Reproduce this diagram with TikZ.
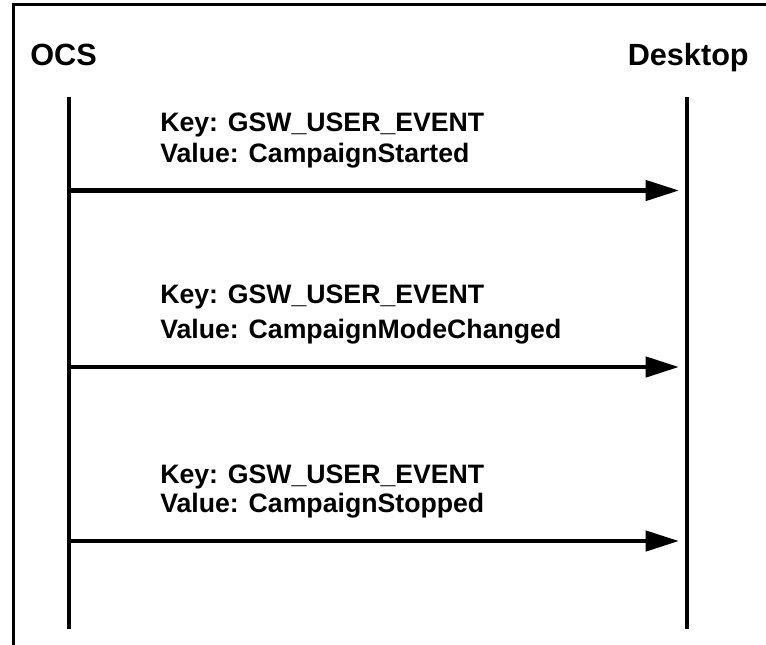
\documentclass[tikz,border=0pt]{standalone}
\usepackage{fontspec}
\setmainfont{Liberation Sans}
\usepackage{tikz}
\usetikzlibrary{arrows.meta}

\begin{document}
\begin{tikzpicture}[x=0.75pt, y=-0.75pt,
	actor/.style = {inner sep=0pt, font=\fontsize{23}{27}\selectfont\bfseries},
	msg/.style = {inner sep=0pt, anchor=base west, font=\fontsize{20}{24}\selectfont\bfseries},
	life/.style = {line width=3pt},
	call/.style = {line width=3.3pt, -{Triangle[length=25pt, width=15pt]}, shorten >=6pt}]
	\useasboundingbox (0,0) rectangle (766,644);
	\clip (0,0) rectangle (766,644);
	\draw[line width=1.8pt] (13.5,4.5) rectangle (800,700);
	\node[actor, anchor=base west] (ocs) at (30,65) {OCS};
	\node[actor, anchor=base east] (desk) at (749,65) {Desktop};
	\coordinate (ocstop) at (68.5,97);
	\coordinate (ocsbot) at (68.5,629);
	\coordinate (desktop) at (687,97);
	\coordinate (deskbot) at (687,629);
	\draw[life] (ocstop) -- (ocsbot);
	\draw[life] (desktop) -- (deskbot);
	% first message
	\node[msg] (k1) at (160,131) {Key: GSW\_USER\_EVENT};
	\node[msg] (v1) at (160,162) {Value: CampaignStarted};
	\coordinate (o1) at (68.5,190.5);
	\coordinate (d1) at (687,190.5);
	\draw[call] (o1) -- (d1);
	% second message
	\node[msg] (k2) at (160,303) {Key: GSW\_USER\_EVENT};
	\node[msg] (v2) at (160,338) {Value: CampaignModeChanged};
	\coordinate (o2) at (68.5,367);
	\coordinate (d2) at (687,367);
	\draw[call] (o2) -- (d2);
	% third message
	\node[msg] (k3) at (160,483) {Key: GSW\_USER\_EVENT};
	\node[msg] (v3) at (160,512) {Value: CampaignStopped};
	\coordinate (o3) at (68.5,541);
	\coordinate (d3) at (687,541);
	\draw[call] (o3) -- (d3);
\end{tikzpicture}
\end{document}
